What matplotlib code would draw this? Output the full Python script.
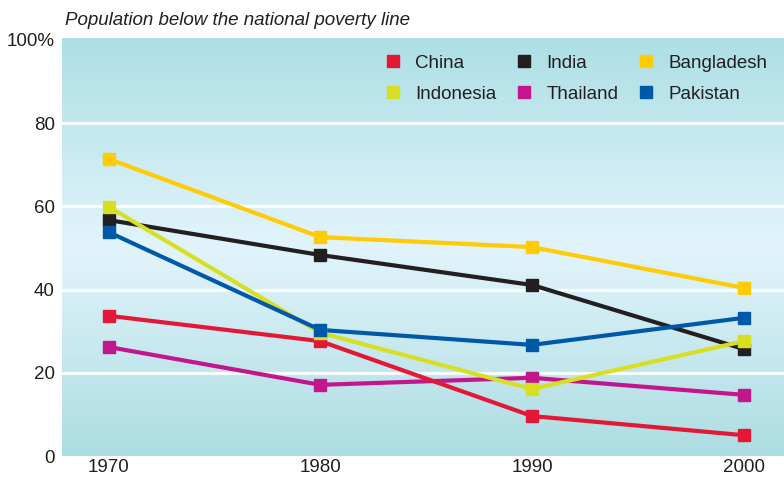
import matplotlib.pyplot as plt
import numpy as np
from matplotlib.colors import LinearSegmentedColormap

plt.rcParams['font.family'] = ['Liberation Sans', 'DejaVu Sans']

years = [1970, 1980, 1990, 2000]
china = [33.7, 27.6, 9.6, 5.0]
india = [56.7, 48.3, 41.1, 25.7]
bangladesh = [71.4, 52.6, 50.2, 40.4]
indonesia = [59.9, 29.6, 16.1, 27.6]
thailand = [26.2, 17.1, 18.8, 14.7]
pakistan = [53.8, 30.3, 26.7, 33.2]

fig = plt.figure(figsize=(7.84, 4.78), dpi=100)
ax = fig.add_axes([0.079, 0.046, 0.921, 0.875])
ax.set_xlim(1967.8, 2001.9)
ax.set_ylim(0, 100.5)

# vertical background gradient: teal at top and bottom, pale in the middle
bg = LinearSegmentedColormap.from_list(
    'bg', [(0, '#acdde2'), (0.5, '#e2f4fb'), (1, '#acdfe5')])
grad = np.linspace(0, 1, 256).reshape(-1, 1)
ax.imshow(grad, cmap=bg, origin='lower', aspect='auto',
          extent=[1967.8, 2001.9, 0, 100.5], zorder=0)

for y in [20, 40, 60, 80]:
    ax.axhline(y, color='white', lw=2, zorder=1)

series = [
    ('Thailand', thailand, '#c4168c'),
    ('China', china, '#e31837'),
    ('Bangladesh', bangladesh, '#ffcb05'),
    ('India', india, '#231f20'),
    ('Indonesia', indonesia, '#d7df23'),
    ('Pakistan', pakistan, '#0058a8'),
]
handles = {}
for name, vals, col in series:
    ax.plot(years, vals, color=col, lw=3, zorder=2)
    ax.plot(years, vals, ls='none', marker='s', ms=9, color=col, zorder=3)
    handles[name] = plt.Line2D([], [], ls='none', marker='s', ms=8, color=col)

order = ['China', 'Indonesia', 'India', 'Thailand', 'Bangladesh', 'Pakistan']
ax.legend([handles[n] for n in order], order, ncol=3, frameon=False,
          loc='upper right', bbox_to_anchor=(1.0, 1.0), fontsize=13.5,
          handletextpad=0.7, columnspacing=0.95, labelspacing=0.75,
          handlelength=1.0, labelcolor='#231f20',
          borderaxespad=0.5)

ax.set_xticks(years)
ax.set_yticks([0, 20, 40, 60, 80, 100])
ax.set_yticklabels(['0', '20', '40', '60', '80', '100%'])
ax.tick_params(length=0, labelsize=13.5, colors='#231f20')
ax.tick_params(axis='x', pad=2)
ax.tick_params(axis='y', pad=5)
for s in ax.spines.values():
    s.set_visible(False)

fig.text(0.083, 0.957, 'Population below the national poverty line',
         style='italic', fontsize=13.5, color='#231f20', va='center')

fig.savefig('out.png', dpi=100)
